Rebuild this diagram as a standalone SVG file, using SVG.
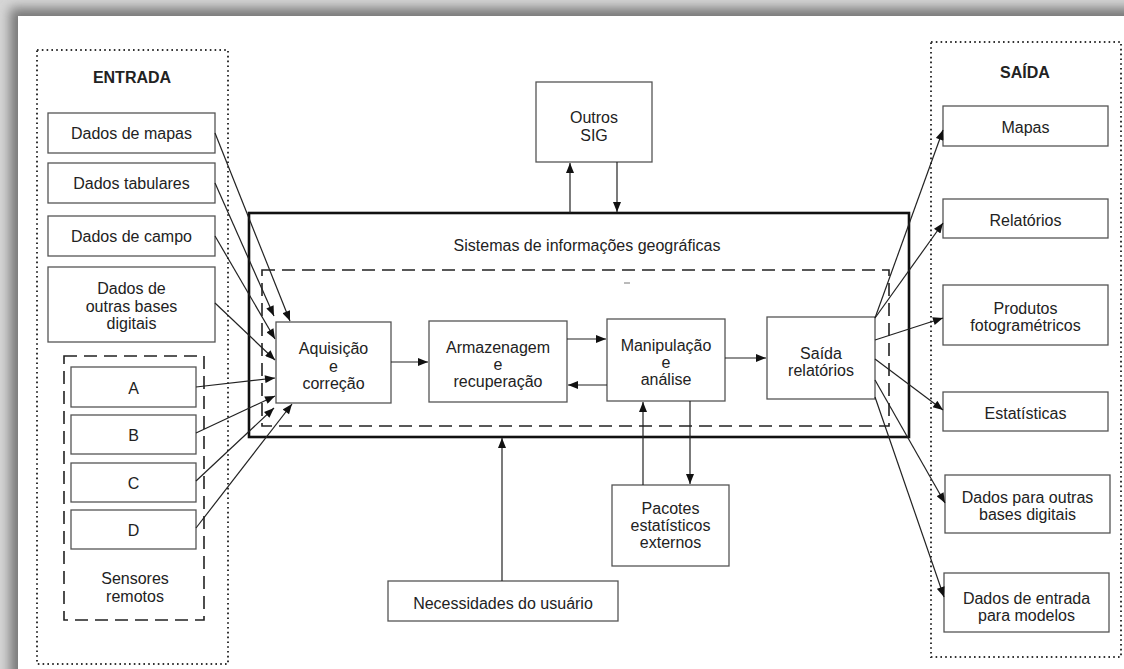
<svg xmlns="http://www.w3.org/2000/svg" width="1124" height="669" viewBox="0 0 1124 669">
<defs>
<filter id="sh" x="-0.1" y="-0.1" width="1.2" height="1.2"><feGaussianBlur stdDeviation="6"/></filter>
<marker id="ah" viewBox="0 0 10 8" refX="10" refY="4" markerWidth="11" markerHeight="8" markerUnits="userSpaceOnUse" orient="auto"><path d="M0,0 L10,4 L0,8 Z" fill="#111"/></marker>
<style>
.bx{fill:#fff;stroke:#555;stroke-width:1.3}
.dot{fill:none;stroke:#333;stroke-width:2;stroke-dasharray:1.6,3.2}
.dash{fill:none;stroke:#222;stroke-width:1.6;stroke-dasharray:13,7}
.main{fill:none;stroke:#111;stroke-width:2.6}
.t{font-family:"Liberation Sans",Arial,sans-serif;font-size:16px;fill:#222;text-anchor:middle}
.b{font-weight:bold}
.c line{stroke:#222;stroke-width:1.2;marker-end:url(#ah)}
</style>
</defs>
<rect width="1124" height="669" fill="#d6d6d6"/>
<rect x="10" y="8" width="1200" height="700" fill="#777" filter="url(#sh)"/>
<rect x="18" y="16" width="1110" height="660" fill="#fff"/>

<g id="entrada">
<rect class="dot" x="37" y="50" width="191" height="614"/>
<text class="t b" x="132" y="83">ENTRADA</text>
</g>
<g id="dados-mapas"><rect class="bx" x="48" y="113" width="167" height="40"/><text class="t" x="131.5" y="139">Dados de mapas</text></g>
<g id="dados-tabulares"><rect class="bx" x="48" y="163" width="167" height="40"/><text class="t" x="131.5" y="189">Dados tabulares</text></g>
<g id="dados-campo"><rect class="bx" x="48" y="216" width="167" height="40"/><text class="t" x="131.5" y="242">Dados de campo</text></g>
<g id="dados-outras"><rect class="bx" x="48" y="267" width="167" height="75"/><text class="t" x="131.5" y="294">Dados de</text><text class="t" x="131.5" y="311.5">outras bases</text><text class="t" x="131.5" y="329">digitais</text></g>
<g id="sensores">
<rect class="dash" x="64" y="356" width="140" height="264"/>
<text class="t" x="135" y="584">Sensores</text><text class="t" x="135" y="602">remotos</text>
</g>
<g id="sensor-a"><rect class="bx" x="71" y="367" width="125" height="40"/><text class="t" x="133.5" y="394">A</text></g>
<g id="sensor-b"><rect class="bx" x="71" y="415" width="125" height="39"/><text class="t" x="133.5" y="441">B</text></g>
<g id="sensor-c"><rect class="bx" x="71" y="463" width="125" height="39"/><text class="t" x="133.5" y="489">C</text></g>
<g id="sensor-d"><rect class="bx" x="71" y="510" width="125" height="39"/><text class="t" x="133.5" y="536">D</text></g>

<g id="outros-sig"><rect class="bx" x="536" y="82" width="116" height="80"/><text class="t" x="594" y="123">Outros</text><text class="t" x="594" y="141">SIG</text></g>

<g id="sig">
<rect class="main" x="249" y="213" width="660" height="224"/>
<rect class="dash" x="262" y="270" width="627" height="156"/>
<text class="t" x="587" y="251">Sistemas de informações geográficas</text>
<line x1="624" y1="283" x2="630" y2="283" stroke="#777" stroke-width="1"/>
</g>
<g id="aquisicao"><rect class="bx" x="276" y="322" width="115" height="81"/><text class="t" x="333.5" y="354">Aquisição</text><text class="t" x="333.5" y="371.5">e</text><text class="t" x="333.5" y="389">correção</text></g>
<g id="armazenagem"><rect class="bx" x="429" y="321" width="138" height="81"/><text class="t" x="498" y="353">Armazenagem</text><text class="t" x="498" y="370">e</text><text class="t" x="498" y="387">recuperação</text></g>
<g id="manipulacao"><rect class="bx" x="607" y="319" width="118" height="82"/><text class="t" x="666" y="351">Manipulação</text><text class="t" x="666" y="368">e</text><text class="t" x="666" y="385">análise</text></g>
<g id="saida-relatorios"><rect class="bx" x="767" y="317" width="108" height="82"/><text class="t" x="821" y="359">Saída</text><text class="t" x="821" y="376">relatórios</text></g>

<g id="pacotes"><rect class="bx" x="612" y="485" width="117" height="81"/><text class="t" x="670.5" y="514">Pacotes</text><text class="t" x="670.5" y="531">estatísticos</text><text class="t" x="670.5" y="548">externos</text></g>
<g id="necessidades"><rect class="bx" x="388" y="581" width="230" height="40"/><text class="t" x="503" y="609">Necessidades do usuário</text></g>

<g id="saida">
<rect class="dot" x="931" y="42" width="190" height="615"/>
<text class="t b" x="1025" y="78">SAÍDA</text>
</g>
<g id="mapas"><rect class="bx" x="943" y="106" width="165" height="40"/><text class="t" x="1025.5" y="133">Mapas</text></g>
<g id="relatorios"><rect class="bx" x="943" y="199" width="165" height="39"/><text class="t" x="1025.5" y="226">Relatórios</text></g>
<g id="produtos"><rect class="bx" x="943" y="285" width="165" height="60"/><text class="t" x="1025.5" y="314">Produtos</text><text class="t" x="1025.5" y="331">fotogramétricos</text></g>
<g id="estatisticas"><rect class="bx" x="943" y="392" width="165" height="39"/><text class="t" x="1025.5" y="419">Estatísticas</text></g>
<g id="dados-para-outras"><rect class="bx" x="945" y="475" width="165" height="58"/><text class="t" x="1027.5" y="503">Dados para outras</text><text class="t" x="1027.5" y="520">bases digitais</text></g>
<g id="dados-entrada-modelos"><rect class="bx" x="944" y="573" width="165" height="59"/><text class="t" x="1026.5" y="604">Dados de entrada</text><text class="t" x="1026.5" y="621">para modelos</text></g>

<g id="connectors" class="c">
<line x1="215" y1="133" x2="290" y2="321"/>
<line x1="215" y1="183" x2="274" y2="316"/>
<line x1="215" y1="236" x2="275" y2="339"/>
<line x1="215" y1="303" x2="275" y2="360"/>
<line x1="196" y1="387" x2="275" y2="378"/>
<line x1="196" y1="433" x2="275" y2="396"/>
<line x1="196" y1="481" x2="274" y2="408"/>
<line x1="196" y1="528" x2="292" y2="404"/>
<line x1="570" y1="213" x2="570" y2="163"/>
<line x1="617" y1="162" x2="617" y2="212"/>
<line x1="391" y1="362" x2="428" y2="362"/>
<line x1="567" y1="339" x2="606" y2="339"/>
<line x1="607" y1="385" x2="568" y2="385"/>
<line x1="725" y1="358" x2="766" y2="358"/>
<line x1="643" y1="485" x2="643" y2="402"/>
<line x1="690" y1="401" x2="690" y2="484"/>
<line x1="502" y1="581" x2="502" y2="438"/>
<line x1="875" y1="318" x2="943" y2="130"/>
<line x1="875" y1="318" x2="943" y2="223"/>
<line x1="875" y1="340" x2="943" y2="318"/>
<line x1="875" y1="359" x2="943" y2="410"/>
<line x1="875" y1="380" x2="945" y2="503"/>
<line x1="875" y1="397" x2="944" y2="597"/>
</g>
</svg>
